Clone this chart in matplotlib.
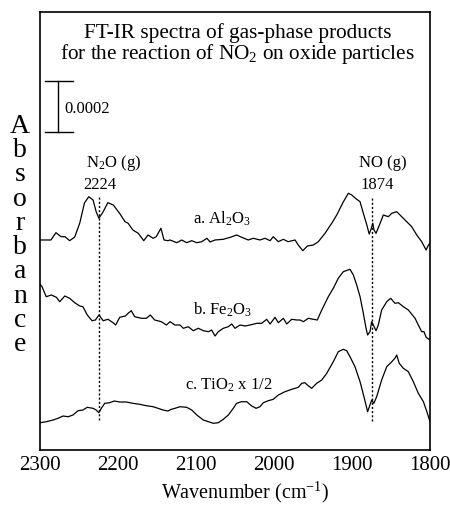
import matplotlib
matplotlib.use("Agg")
import matplotlib.pyplot as plt

plt.rcParams["font.family"] = ["Liberation Serif", "DejaVu Serif"]
plt.rcParams["mathtext.fontset"] = "custom"
plt.rcParams["mathtext.rm"] = "Liberation Serif"
plt.rcParams["mathtext.it"] = "Liberation Serif:italic"

# wavenumber (cm-1) and height above the axis bottom (arbitrary, 51 = 0.0002 abs)
wn_a = [2300, 2286, 2279.5, 2273, 2268, 2262, 2255.5, 2249, 2243, 2237.5, 2232, 2228,
        2224.5, 2219, 2213, 2206, 2198, 2191, 2187, 2181, 2174, 2167, 2161.5, 2155,
        2151, 2145, 2141, 2136, 2133.3, 2124.7, 2118.3, 2112, 2105.5, 2099, 2092.7,
        2086, 2082, 2075.6, 2065, 2056, 2048, 2041.4, 2033, 2026.5, 2018, 2011.5,
        2005, 2001, 1994.5, 1988, 1982, 1973, 1969, 1963, 1957.3, 1949.6, 1943.2,
        1934.6, 1926, 1919.6, 1911, 1904.7, 1900.4, 1894, 1889.7, 1885.5, 1881, 1878,
        1875.6, 1873.4, 1871.8, 1869.2, 1864, 1859.9, 1853.5, 1849, 1842.7, 1836.3,
        1829.9, 1823.5, 1817, 1810.7, 1805, 1802, 1800]
ab_a = [210, 210, 217.3, 213.3, 213.3, 209.3, 213, 227, 247, 253.3, 250, 238.3,
        231.7, 238.3, 247.3, 245, 236.7, 228.3, 226.7, 220, 216.7, 209.3, 215, 211.7,
        213.3, 221.7, 210, 209.3, 210, 207.3, 210, 207.3, 209.3, 207.3, 208.3,
        211.7, 208, 210, 210.7, 212.7, 215, 212.7, 210, 211.7, 210, 211.7,
        209.3, 213.3, 208.3, 210.7, 208.3, 210, 205, 199.3, 204, 205, 208.3,
        216.7, 226.7, 235, 248.3, 256.7, 255, 250.7, 248.3, 236.7, 225, 216,
        220.7, 226.7, 220, 216.7, 226.7, 235, 233.3, 236.7, 238.3, 233.3,
        228.3, 223.3, 215, 208.3, 200, 205, 206.7]

wn_b = [2300, 2297.4, 2292, 2285.5, 2279, 2274.7, 2268.3, 2262, 2255.5, 2249, 2245,
        2239.4, 2233.3, 2229, 2224.4, 2219, 2212.8, 2206.4, 2203, 2197.8, 2190.6,
        2187, 2183, 2178.6, 2170, 2163.7, 2158.6, 2153, 2144.5, 2138, 2133.3, 2127,
        2120.5, 2116.3, 2110, 2103.5, 2097, 2090.6, 2084, 2080, 2075.6, 2071.4, 2065,
        2058.6, 2054.2, 2050, 2043.6, 2037, 2030.8, 2022, 2015.8, 2009.4, 2005,
        1998.7, 1994.5, 1988, 1983.7, 1977.3, 1970.9, 1966.7, 1962.4, 1956, 1949.6,
        1944.5, 1938.8, 1930.4, 1924, 1917.6, 1911.2, 1902.6, 1898.3, 1894, 1889.7,
        1885.5, 1882, 1880, 1877, 1874.8, 1872.7, 1869.2, 1866.3, 1862, 1855.5,
        1850.4, 1845, 1840.6, 1834.2, 1827.8, 1819.2, 1815, 1810.7, 1807.7, 1805, 1800]
ab_b = [166, 163.3, 153.3, 155, 152.7, 148.3, 154, 151.7, 147.3, 144, 143.3,
        135, 129.3, 130, 135, 129.3, 130.7, 127.3, 125, 132.7, 134,
        136.7, 139.3, 133.3, 131.7, 131.7, 135, 130, 128.3, 125, 128.3, 125,
        125, 121.7, 123.3, 119.3, 121.7, 119.3, 118.3, 120, 114, 118.3, 121.7,
        123.3, 126, 121.7, 125, 124, 125, 126.7, 126.7, 130.7, 126,
        132.7, 127.3, 131.7, 126, 130.7, 130, 130, 128.3, 131.7, 130.7,
        130, 140, 153.3, 161.7, 171.7, 178.3, 180.7, 175, 165, 153.3,
        136.7, 121.7, 115, 118.3, 128.3, 125, 119.3, 125, 140, 148.3,
        151.7, 146.7, 147.3, 143.3, 140, 131.7, 125, 118.3, 118.3, 112.7, 110]

wn_c = [2300, 2292, 2283.3, 2277, 2270.5, 2264, 2257.7, 2251.3, 2245, 2239.4, 2232,
        2228, 2224.7, 2221.4, 2217, 2210.6, 2205, 2197.8, 2189.4, 2181, 2172.2,
        2163.7, 2155, 2148.7, 2142.3, 2136, 2131.7, 2127, 2120.5, 2112, 2105.5,
        2099, 2090.6, 2084, 2077.8, 2071.4, 2065, 2058.6, 2052.2, 2048, 2041.4, 2035,
        2028.6, 2023, 2018, 2013.7, 2007.3, 2001, 1994.5, 1986, 1977.3, 1968.8,
        1964.5, 1960.3, 1957.3, 1951.7, 1945.3, 1938.8, 1932.4, 1924, 1917.6, 1911.2,
        1906.8, 1902.6, 1896.2, 1889.7, 1884.2, 1880, 1877, 1874.8, 1872, 1868.4,
        1862, 1855.5, 1849, 1845, 1842.7, 1839.5, 1834.2, 1827.8, 1821.4, 1815,
        1808.5, 1804, 1800]
ab_c = [27.3, 28.3, 30, 31.7, 34, 33.3, 35, 39.3, 40, 42.7, 41.7,
        40, 37.3, 41.7, 46.7, 47.3, 49, 48, 48, 46.7, 45.7,
        44.3, 43.3, 41.7, 40, 39, 40.7, 41.7, 43.3, 42.7, 40,
        35, 30, 28.3, 26.7, 27.3, 30.7, 35, 41.7, 46.7, 48.3, 48.3,
        44, 41.7, 43.3, 47.3, 49.3, 50.7, 55, 58.3, 60.7, 62.7,
        66.7, 67.3, 65, 61.7, 66.7, 70, 76.7, 88.3, 98.3, 100.7,
        99.3, 93.3, 83.3, 68.3, 51.7, 38.3, 45, 50, 46.7, 53.3,
        70, 83.3, 88.3, 91.7, 95, 86.7, 81.7, 78.3, 68.3, 56.7,
        48.3, 38.3, 28.3]

peaks = [2224, 1874]
peak_names = ["N$_2$O (g)", "NO (g)"]
xticks = [2300, 2200, 2100, 2000, 1900, 1800]

fig = plt.figure(figsize=(4.5, 5.07), dpi=100)
ax = fig.add_axes([0.0889, 0.1124, 0.8667, 0.864])

for wn, ab in [(wn_a, ab_a), (wn_b, ab_b), (wn_c, ab_c)]:
    ax.plot(wn, ab, color="black", lw=0.9)

for p in peaks:
    ax.plot([p, p], [30, 255] if p == 2224 else [29, 252], color="black",
            lw=1.0, ls=(0, (1.5, 1.5)))

ax.text(2206, 283, peak_names[0], ha="center", va="baseline", fontsize=12)
ax.text(2223, 261, "2224", ha="center", va="baseline", fontsize=12)
ax.text(1860, 283, peak_names[1], ha="center", va="baseline", fontsize=12)
ax.text(1868, 261, "1874", ha="center", va="baseline", fontsize=12)

ax.text(2104, 226, "a. Al$_2$O$_3$", va="baseline", fontsize=12)
ax.text(2104, 135, "b. Fe$_2$O$_3$", va="baseline", fontsize=12)
ax.text(2114, 60, "c. TiO$_2$ x 1/2", va="baseline", fontsize=12)

ax.text(2047, 411.7, "FT-IR spectra of gas-phase products", ha="center",
        va="baseline", fontsize=15.3)
ax.text(2047, 391, "for the reaction of NO$_2$ on oxide particles", ha="center",
        va="baseline", fontsize=15.3)

# scale bar
ax.plot([2276.5, 2276.5], [318, 369], color="black", lw=1.0)
ax.plot([2293.6, 2257.7], [369, 369], color="black", lw=1.0)
ax.plot([2293.6, 2257.7], [318, 318], color="black", lw=1.0)
ax.text(2269, 337, "0.0002", va="baseline", fontsize=12)

ax.set_xlim(2300, 1800)
ax.set_ylim(0, 438)
ax.set_xticks(xticks)
ax.set_yticks([])
ax.tick_params(axis="x", length=0, pad=4, labelsize=15)
for s in ax.spines.values():
    s.set_linewidth(1.2)

fig.text(245 / 450, 1 - 492 / 507, "Wavenumber (cm$^{-1}$)", ha="center",
         va="center", fontsize=14.5)
fig.text(20 / 450, 1 - 235.5 / 507, "\n".join("Absorbance"), ha="center",
         va="center", fontsize=20, linespacing=0.96)

fig.savefig("out.png", dpi=100)
